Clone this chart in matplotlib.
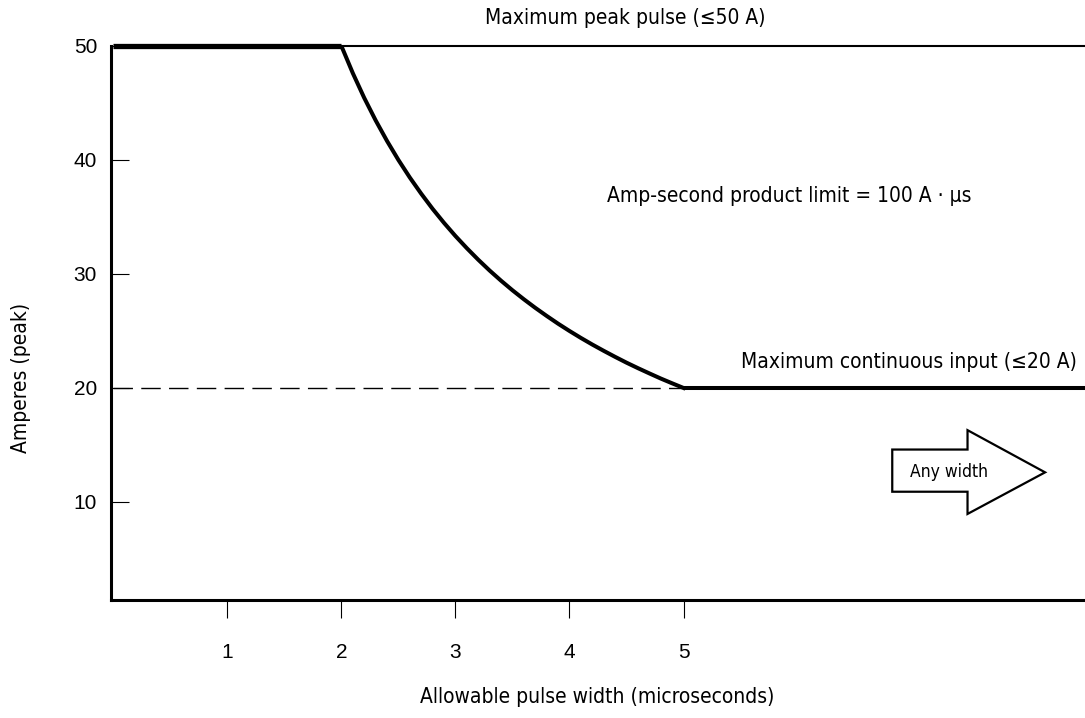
import matplotlib.pyplot as plt
from matplotlib.patches import Polygon

# pulse-width limit curve (A * us = 100)
pulse_us = [2.0, 2.1, 2.2, 2.3, 2.4, 2.5, 2.6, 2.7, 2.8, 2.9, 3.0,
            3.1, 3.2, 3.3, 3.4, 3.5, 3.6, 3.7, 3.8, 3.9, 4.0,
            4.1, 4.2, 4.3, 4.4, 4.5, 4.6, 4.7, 4.8, 4.9, 5.0]
pulse_amps = [50.0, 47.62, 45.45, 43.48, 41.67, 40.0, 38.46, 37.04, 35.71, 34.48, 33.33,
              32.26, 31.25, 30.30, 29.41, 28.57, 27.78, 27.03, 26.32, 25.64, 25.0,
              24.39, 23.81, 23.26, 22.73, 22.22, 21.74, 21.28, 20.83, 20.41, 20.0]

peak_limit = 50
cont_limit = 20
x_ticks = [1, 2, 3, 4, 5]
y_ticks = [10, 20, 30, 40, 50]

cond = dict(family='DejaVu Sans', fontstretch='condensed')

fig = plt.figure(figsize=(10.85, 7.18), dpi=100)
ax = fig.add_axes([0.1023, 0.1643, 0.8977, 0.7717])
ax.set_xlim(-0.02, 8.52)
ax.set_ylim(1.4, 50)

for s in ['top', 'right']:
    ax.spines[s].set_visible(False)
for s in ['left', 'bottom']:
    ax.spines[s].set_linewidth(2.2)

# limit lines
ax.plot([0, 2], [peak_limit, peak_limit], color='black', lw=3.8, solid_capstyle='butt', clip_on=False)
ax.plot([2, 8.52], [peak_limit, peak_limit], color='black', lw=1.5, clip_on=False)
ax.plot(pulse_us, pulse_amps, color='black', lw=2.9, solid_joinstyle='round')
ax.plot([0, 5], [cont_limit, cont_limit], color='black', lw=1.0, dashes=(14, 6))
ax.plot([5, 8.52], [cont_limit, cont_limit], color='black', lw=2.9, solid_capstyle='butt', clip_on=False)

# "any width" arrow
arrow = Polygon([(6.83, 14.6), (7.49, 14.6), (7.49, 16.3), (8.17, 12.6),
                 (7.49, 8.95), (7.49, 10.9), (6.83, 10.9)],
                closed=True, facecolor='white', edgecolor='black', lw=1.6)
ax.add_patch(arrow)
ax.text(7.33, 12.6, 'Any width', ha='center', va='center', fontsize=12.5, **cond)

ax.text(5.93, 36.8, 'Amp-second product limit = 100 A · µs', ha='center', va='center',
        fontsize=15, **cond)
ax.text(8.45, 21.4, 'Maximum continuous input (≤20 A)', ha='right', va='bottom',
        fontsize=15, **cond)
fig.text(0.576, 0.975, 'Maximum peak pulse (≤50 A)', ha='center', va='center',
         fontsize=15, **cond)

ax.set_xticks(x_ticks)
ax.set_yticks(y_ticks)
ax.tick_params(axis='x', direction='out', length=13, width=0.8, pad=18,
               labelsize=15)
ax.tick_params(axis='y', direction='in', length=13, width=0.8, pad=10,
               labelsize=15)
for lab in ax.get_xticklabels() + ax.get_yticklabels():
    lab.set_family('Liberation Sans')

fig.text(0.55, 0.029, 'Allowable pulse width (microseconds)', ha='center', va='center',
         fontsize=15, **cond)
fig.text(0.019, 0.474, 'Amperes (peak)', ha='center', va='center', rotation=90,
         fontsize=15, **cond)

fig.savefig('out.png', dpi=100)
